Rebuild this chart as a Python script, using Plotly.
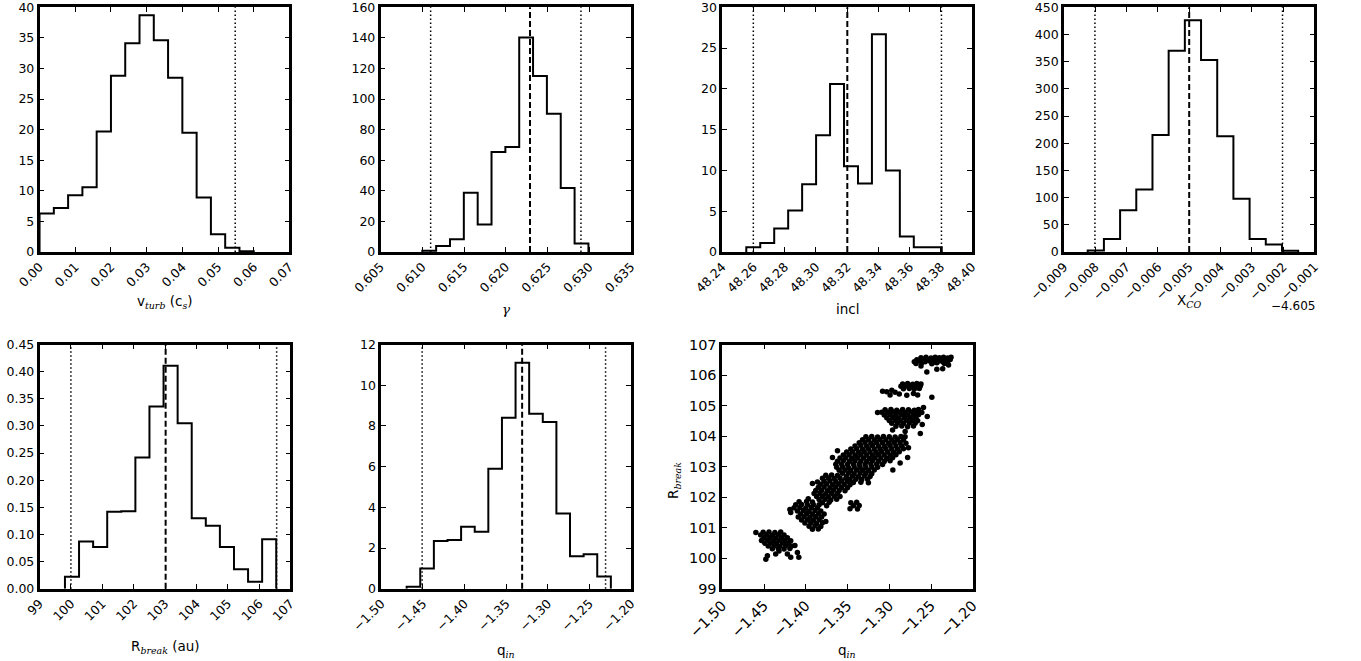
import numpy as np
import plotly.graph_objects as go

W, H = 1361, 661

# ---------------- data ----------------
vturb_start, vturb_width = 0.0, 0.004
vturb_counts = [6.3, 7.2, 9.3, 10.6, 19.7, 28.8, 34.1, 38.7, 34.6, 28.5, 19.5, 8.9, 2.9, 0.7, 0.15]
vturb_dashed = []
vturb_dotted = [0.0548]

gamma_start, gamma_width = 0.6100, 0.001658
gamma_counts = [0.8, 3.9, 8.3, 38.8, 18.0, 65.4, 68.6, 140.3, 115.0, 90.4, 41.9, 5.6]
gamma_dashed = [0.6229]
gamma_dotted = [0.6110, 0.6290]

incl_start, incl_width = 48.2554, 0.008941
incl_counts = [0.6, 1.1, 2.9, 5.1, 8.3, 14.3, 20.6, 10.5, 8.4, 26.7, 10.0, 1.9, 0.6, 0.6]
incl_dashed = [48.3201]
incl_dotted = [48.2599, 48.3804]

xco_offset_label = "\u22124.605"
xco_start, xco_width = -0.008241, 0.000517
xco_counts = [3, 24, 77, 115, 215, 370, 426, 353, 213, 98, 24, 14, 2.5]
xco_dashed = [-0.0050]
xco_dotted = [-0.00801, -0.00202]

rbreak_start, rbreak_width = 99.81, 0.4491
rbreak_counts = [0.022, 0.087, 0.077, 0.142, 0.143, 0.242, 0.336, 0.411, 0.305, 0.130,
                 0.116, 0.077, 0.036, 0.013, 0.091]
rbreak_dashed = [103.02]
rbreak_dotted = [100.0, 106.56]

qin_start, qin_width = -1.4695, 0.01635
qin_counts = [0.1, 1.0, 2.35, 2.4, 3.05, 2.8, 5.9, 8.4, 11.1, 8.6, 8.2, 3.7, 1.6, 1.7, 0.6]
qin_dashed = [-1.3308]
qin_dotted = [-1.4509, -1.2306]

# scatter samples (q_in, R_break), read cluster by cluster
scatter_top = [
    (-1.262, 106.57), (-1.256, 106.58), (-1.250, 106.56), (-1.245, 106.58), (-1.240, 106.57),
    (-1.235, 106.58), (-1.230, 106.56), (-1.226, 106.58),
    (-1.267, 106.50), (-1.260, 106.52), (-1.254, 106.50), (-1.248, 106.51), (-1.243, 106.49),
    (-1.238, 106.52), (-1.232, 106.50), (-1.227, 106.51),
    (-1.270, 106.44), (-1.264, 106.46), (-1.257, 106.44), (-1.251, 106.45), (-1.246, 106.43),
    (-1.241, 106.46), (-1.236, 106.44), (-1.230, 106.45),
    (-1.268, 106.38), (-1.261, 106.40), (-1.249, 106.37), (-1.243, 106.40), (-1.234, 106.38),
    (-1.255, 106.10), (-1.243, 106.19), (-1.236, 106.21), (-1.262, 106.30), (-1.229, 106.33),
]
scatter_second = [
    (-1.284, 105.71), (-1.278, 105.72), (-1.272, 105.70), (-1.267, 105.72), (-1.262, 105.71),
    (-1.286, 105.63), (-1.280, 105.64), (-1.274, 105.62), (-1.268, 105.64), (-1.263, 105.63),
    (-1.283, 105.55), (-1.276, 105.56), (-1.270, 105.54), (-1.264, 105.56),
    (-1.308, 105.47), (-1.303, 105.45), (-1.297, 105.50), (-1.293, 105.44), (-1.299, 105.35),
    (-1.288, 105.38), (-1.279, 105.34), (-1.271, 105.40), (-1.266, 105.35), (-1.249, 105.27),
]
scatter_third = [
    (-1.305, 104.86), (-1.298, 104.87), (-1.291, 104.85), (-1.284, 104.87), (-1.277, 104.86),
    (-1.270, 104.85), (-1.265, 104.87),
    (-1.309, 104.78), (-1.302, 104.77), (-1.295, 104.79), (-1.288, 104.78), (-1.281, 104.77),
    (-1.274, 104.79), (-1.267, 104.78), (-1.261, 104.77),
    (-1.306, 104.69), (-1.299, 104.70), (-1.292, 104.68), (-1.285, 104.70), (-1.278, 104.69),
    (-1.271, 104.68), (-1.265, 104.70),
    (-1.303, 104.60), (-1.296, 104.61), (-1.289, 104.59), (-1.282, 104.61), (-1.275, 104.60),
    (-1.268, 104.59),
    (-1.300, 104.51), (-1.293, 104.52), (-1.286, 104.50), (-1.279, 104.52), (-1.272, 104.51),
    (-1.266, 104.50),
    (-1.297, 104.42), (-1.290, 104.43), (-1.283, 104.41), (-1.276, 104.43), (-1.269, 104.42),
    (-1.292, 104.32), (-1.285, 104.33), (-1.278, 104.31), (-1.271, 104.33),
    (-1.314, 104.77), (-1.259, 104.94), (-1.2545, 104.64), (-1.2605, 104.38), (-1.2628, 104.09),
    (-1.296, 104.20), (-1.281, 104.15),
]
scatter_main = [
    (-1.328, 103.98), (-1.321, 103.99), (-1.314, 103.97), (-1.307, 103.99), (-1.300, 103.98),
    (-1.293, 103.97), (-1.286, 103.99), (-1.281, 103.98),
    (-1.332, 103.88), (-1.325, 103.89), (-1.318, 103.87), (-1.311, 103.89), (-1.304, 103.88),
    (-1.297, 103.87), (-1.290, 103.89), (-1.283, 103.88),
    (-1.336, 103.78), (-1.329, 103.79), (-1.322, 103.77), (-1.315, 103.79), (-1.308, 103.78),
    (-1.301, 103.77), (-1.294, 103.79), (-1.287, 103.78), (-1.280, 103.77),
    (-1.341, 103.68), (-1.334, 103.69), (-1.327, 103.67), (-1.320, 103.69), (-1.313, 103.68),
    (-1.306, 103.67), (-1.299, 103.69), (-1.292, 103.68), (-1.285, 103.67),
    (-1.346, 103.58), (-1.339, 103.59), (-1.332, 103.57), (-1.325, 103.59), (-1.318, 103.58),
    (-1.311, 103.57), (-1.304, 103.59), (-1.297, 103.58), (-1.290, 103.57), (-1.283, 103.59),
    (-1.351, 103.48), (-1.344, 103.49), (-1.337, 103.47), (-1.330, 103.49), (-1.323, 103.48),
    (-1.316, 103.47), (-1.309, 103.49), (-1.302, 103.48), (-1.295, 103.47), (-1.288, 103.49),
    (-1.355, 103.38), (-1.348, 103.39), (-1.341, 103.37), (-1.334, 103.39), (-1.327, 103.38),
    (-1.320, 103.37), (-1.313, 103.39), (-1.306, 103.38), (-1.299, 103.37), (-1.292, 103.39),
    (-1.359, 103.28), (-1.352, 103.29), (-1.345, 103.27), (-1.338, 103.29), (-1.331, 103.28),
    (-1.324, 103.27), (-1.317, 103.29), (-1.310, 103.28), (-1.303, 103.27), (-1.296, 103.29),
    (-1.362, 103.18), (-1.355, 103.19), (-1.348, 103.17), (-1.341, 103.19), (-1.334, 103.18),
    (-1.327, 103.17), (-1.320, 103.19), (-1.313, 103.18), (-1.306, 103.17), (-1.299, 103.19),
    (-1.364, 103.08), (-1.357, 103.09), (-1.350, 103.07), (-1.343, 103.09), (-1.336, 103.08),
    (-1.329, 103.07), (-1.322, 103.09), (-1.315, 103.08), (-1.308, 103.07),
    (-1.363, 102.98), (-1.356, 102.99), (-1.349, 102.97), (-1.342, 102.99), (-1.335, 102.98),
    (-1.328, 102.97), (-1.321, 102.99), (-1.314, 102.98),
    (-1.360, 102.88), (-1.353, 102.89), (-1.346, 102.87), (-1.339, 102.89), (-1.332, 102.88),
    (-1.325, 102.87), (-1.318, 102.89),
    (-1.356, 102.78), (-1.349, 102.79), (-1.342, 102.77), (-1.335, 102.79), (-1.328, 102.78),
    (-1.321, 102.77),
    (-1.351, 102.68), (-1.344, 102.69), (-1.337, 102.67), (-1.330, 102.69), (-1.323, 102.68),
    (-1.347, 102.58), (-1.340, 102.59), (-1.333, 102.57), (-1.326, 102.59),
    (-1.343, 102.48), (-1.334, 102.49), (-1.325, 102.47),
    (-1.2957, 102.89), (-1.277, 103.62), (-1.278, 103.30), (-1.287, 103.12), (-1.368, 103.30),
    (-1.362, 103.52),
]
scatter_lower = [
    (-1.376, 102.72), (-1.369, 102.73), (-1.362, 102.71),
    (-1.380, 102.62), (-1.373, 102.63), (-1.366, 102.61), (-1.359, 102.63), (-1.352, 102.62),
    (-1.378, 102.52), (-1.371, 102.53), (-1.364, 102.51), (-1.357, 102.53), (-1.350, 102.52),
    (-1.382, 102.42), (-1.375, 102.43), (-1.368, 102.41), (-1.361, 102.43), (-1.354, 102.42),
    (-1.347, 102.41),
    (-1.385, 102.32), (-1.378, 102.33), (-1.371, 102.31), (-1.364, 102.33), (-1.357, 102.32),
    (-1.350, 102.31),
    (-1.388, 102.22), (-1.381, 102.23), (-1.374, 102.21), (-1.367, 102.23), (-1.360, 102.22),
    (-1.353, 102.21),
    (-1.390, 102.12), (-1.383, 102.13), (-1.376, 102.11), (-1.369, 102.13), (-1.362, 102.12),
    (-1.387, 102.02), (-1.380, 102.03), (-1.373, 102.01), (-1.366, 102.03), (-1.359, 102.02),
    (-1.384, 101.92), (-1.377, 101.93), (-1.370, 101.91), (-1.363, 101.93),
    (-1.380, 101.82), (-1.372, 101.83), (-1.346, 101.82), (-1.339, 101.83),
    (-1.375, 101.72), (-1.343, 101.72), (-1.336, 101.73),
    (-1.347, 101.62), (-1.338, 101.61),
    (-1.392, 102.45), (-1.386, 102.50),
]
scatter_low2 = [
    (-1.408, 101.85), (-1.399, 101.86), (-1.392, 101.84),
    (-1.412, 101.75), (-1.405, 101.76), (-1.398, 101.74), (-1.391, 101.76), (-1.384, 101.75),
    (-1.414, 101.65), (-1.407, 101.66), (-1.400, 101.64), (-1.393, 101.66), (-1.386, 101.65),
    (-1.410, 101.55), (-1.403, 101.56), (-1.396, 101.54), (-1.389, 101.56), (-1.382, 101.55),
    (-1.406, 101.45), (-1.399, 101.46), (-1.392, 101.44), (-1.385, 101.46), (-1.378, 101.45),
    (-1.409, 101.35), (-1.402, 101.36), (-1.395, 101.34), (-1.388, 101.36), (-1.381, 101.35),
    (-1.405, 101.25), (-1.398, 101.26), (-1.391, 101.24), (-1.384, 101.26),
    (-1.401, 101.15), (-1.394, 101.16), (-1.387, 101.14), (-1.380, 101.16),
    (-1.396, 101.05), (-1.389, 101.06), (-1.382, 101.04),
    (-1.392, 100.95), (-1.385, 100.96),
    (-1.419, 101.60), (-1.418, 101.50), (-1.397, 101.95), (-1.376, 101.20),
]
scatter_bottom = [
    (-1.451, 100.85), (-1.444, 100.86), (-1.437, 100.84), (-1.430, 100.86),
    (-1.454, 100.76), (-1.447, 100.77), (-1.440, 100.75), (-1.433, 100.77), (-1.426, 100.76),
    (-1.450, 100.67), (-1.443, 100.68), (-1.436, 100.66), (-1.429, 100.68), (-1.422, 100.67),
    (-1.453, 100.58), (-1.446, 100.59), (-1.439, 100.57), (-1.432, 100.59), (-1.425, 100.58),
    (-1.418, 100.57),
    (-1.449, 100.49), (-1.442, 100.50), (-1.435, 100.48), (-1.428, 100.50), (-1.421, 100.49),
    (-1.445, 100.40), (-1.438, 100.41), (-1.431, 100.39), (-1.424, 100.41), (-1.417, 100.40),
    (-1.440, 100.31), (-1.433, 100.32), (-1.426, 100.30), (-1.419, 100.32),
    (-1.4597, 100.84), (-1.4459, 100.08), (-1.4478, 99.97), (-1.4360, 100.14), (-1.4320, 100.24),
    (-1.422, 100.14), (-1.418, 100.03), (-1.4083, 100.03), (-1.410, 100.19), (-1.413, 100.42),
]

# ---------------- layout helpers ----------------
FONT = "DejaVu Sans"
LW = 2.5


def px_x(p):
    return p / W


def px_y(p):
    return 1 - p / H


def step_xy(start, width, counts):
    n = len(counts)
    edges = start + width * np.arange(n + 1)
    xs, ys = [edges[0]], [0.0]
    for i, c in enumerate(counts):
        xs += [edges[i], edges[i + 1]]
        ys += [c, c]
    xs.append(edges[-1])
    ys.append(0.0)
    return xs, ys


# panel boxes (spine centres in pixels): left, right, top, bottom
boxes = [
    (38.3, 290.7, 6.0, 253.3),
    (379.3, 632.3, 6.0, 253.3),
    (721.0, 973.3, 6.0, 253.3),
    (1062.7, 1315.7, 6.0, 253.3),
    (38.3, 291.7, 343.3, 590.0),
    (380.0, 632.3, 343.3, 590.0),
    (721.0, 974.0, 343.3, 590.0),
]

hist_panels = [
    dict(start=vturb_start, width=vturb_width, counts=vturb_counts, dashed=vturb_dashed,
         dotted=vturb_dotted, xr=[0, 0.07], xd=0.01, xf=".2f", yr=[0, 40], yd=5, yf="d"),
    dict(start=gamma_start, width=gamma_width, counts=gamma_counts, dashed=gamma_dashed,
         dotted=gamma_dotted, xr=[0.605, 0.635], xd=0.005, xf=".3f", yr=[0, 160], yd=20, yf="d"),
    dict(start=incl_start, width=incl_width, counts=incl_counts, dashed=incl_dashed,
         dotted=incl_dotted, xr=[48.24, 48.40], xd=0.02, xf=".2f", yr=[0, 30], yd=5, yf="d"),
    dict(start=xco_start, width=xco_width, counts=xco_counts, dashed=xco_dashed,
         dotted=xco_dotted, xr=[-0.009, -0.001], xd=0.001, xf=".3f", yr=[0, 450], yd=50, yf="d"),
    dict(start=rbreak_start, width=rbreak_width, counts=rbreak_counts, dashed=rbreak_dashed,
         dotted=rbreak_dotted, xr=[99, 107], xd=1, xf="d", yr=[0, 0.45], yd=0.05, yf=".2f"),
    dict(start=qin_start, width=qin_width, counts=qin_counts, dashed=qin_dashed,
         dotted=qin_dotted, xr=[-1.5, -1.2], xd=0.05, xf=".2f", yr=[0, 12], yd=2, yf="d"),
]

fig = go.Figure()
layout = dict(width=W, height=H, autosize=False, margin=dict(l=0, r=0, t=0, b=0, pad=0),
              paper_bgcolor="white", plot_bgcolor="white", showlegend=False,
              font=dict(family=FONT, color="black", size=12))
shapes = []
annotations = []


def axis_common(rng, dtick, fmt, domain, anchor, fsize):
    return dict(range=rng, dtick=dtick, tick0=rng[0], tickformat=fmt, domain=domain,
                anchor=anchor, showgrid=False, zeroline=False, showline=True, linewidth=LW,
                linecolor="black", mirror="ticks", ticks="inside", ticklen=5, tickwidth=1,
                tickcolor="black", tickfont=dict(family=FONT, size=fsize, color="black"),
                fixedrange=True, automargin=False, ticklabeloverflow="allow")


for i in range(7):
    l, r, t, b = boxes[i]
    xdom = [px_x(l + LW / 2), px_x(r - LW / 2)]
    ydom = [px_y(b - LW / 2), px_y(t + LW / 2)]
    xa = "xaxis" if i == 0 else f"xaxis{i + 1}"
    ya = "yaxis" if i == 0 else f"yaxis{i + 1}"
    xref = "x" if i == 0 else f"x{i + 1}"
    yref = "y" if i == 0 else f"y{i + 1}"
    if i < 6:
        p = hist_panels[i]
        layout[xa] = axis_common(p["xr"], p["xd"], p["xf"], xdom, yref, 12.5)
        layout[xa]["tickangle"] = -45
        layout[ya] = axis_common(p["yr"], p["yd"], p["yf"], ydom, xref, 12.5)
        xs, ys = step_xy(p["start"], p["width"], p["counts"])
        fig.add_trace(go.Scatter(x=xs, y=ys, mode="lines", xaxis=xref, yaxis=yref,
                                 line=dict(color="black", width=2), hoverinfo="skip"))
        for v in p["dashed"]:
            shapes.append(dict(type="line", xref=xref, yref=f"{yref} domain", x0=v, x1=v,
                               y0=0, y1=1, line=dict(color="black", width=2, dash="6px,3px")))
        for v in p["dotted"]:
            shapes.append(dict(type="line", xref=xref, yref=f"{yref} domain", x0=v, x1=v,
                               y0=0, y1=1, line=dict(color="black", width=1.5, dash="1.5px,2.5px")))
    else:
        layout[xa] = axis_common([-1.5, -1.2], 0.05, ".2f", xdom, yref, 14.5)
        layout[xa]["tickangle"] = -45
        layout[ya] = axis_common([99, 107], 1, "d", ydom, xref, 14.5)
        pts = scatter_top + scatter_second + scatter_third + scatter_main + scatter_lower \
            + scatter_low2 + scatter_bottom
        sq = [p[0] for p in pts]
        sr = [p[1] for p in pts]
        fig.add_trace(go.Scatter(x=sq, y=sr, mode="markers", xaxis=xref, yaxis=yref,
                                 marker=dict(color="black", size=5.5, line=dict(width=0)),
                                 hoverinfo="skip"))

# axis titles (math parts in a serif italic, like mathtext)
MATH = "font-family:'DejaVu Serif'"
SUBI = lambda s: f"<sub><span style=\"{MATH}\"><i>{s}</i></span></sub>"
titles = [
    ("v" + SUBI("turb") + " (c" + SUBI("s") + ")", 164.5, 291),
    (f"<span style=\"{MATH}\"><i>γ</i></span>", 506, 299),
    ("incl", 847, 299),
    ("X" + SUBI("CO"), 1189, 290),
    ("R" + SUBI("break") + " (au)", 165, 636),
    ("q" + SUBI("in"), 506, 640),
    ("q" + SUBI("in"), 847.5, 640),
]
for txt, cx, ty in titles:
    annotations.append(dict(text=txt, x=px_x(cx), y=px_y(ty), xref="paper", yref="paper",
                            xanchor="center", yanchor="top", showarrow=False,
                            font=dict(family=FONT, size=13.5, color="black")))
annotations.append(dict(text="R" + SUBI("break"), x=px_x(674), y=px_y(481), xref="paper",
                        yref="paper", xanchor="center", yanchor="middle", textangle=-90,
                        showarrow=False, font=dict(family=FONT, size=13.5, color="black")))
annotations.append(dict(text=xco_offset_label, x=px_x(1317), y=px_y(306), xref="paper",
                        yref="paper", xanchor="right", yanchor="middle", showarrow=False,
                        font=dict(family=FONT, size=12, color="black")))

layout["shapes"] = shapes
layout["annotations"] = annotations
fig.update_layout(**layout)
fig.write_html("out.html")
